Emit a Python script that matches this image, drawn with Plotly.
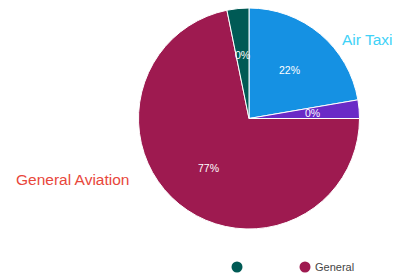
import math
import plotly.graph_objects as go

# ---- data ----
slice_labels = ["Air Taxi", "Other", "General Aviation", "Unknown"]
slice_values = [22.3, 2.7, 71.8, 3.2]
slice_text = ["22%", "0%", "77%", "0%"]
slice_colors = ["#1591E3", "#6A2AC6", "#9E1A50", "#005A55"]

legend_names = ["", "General"]
legend_colors = ["#005A55", "#9E1A50"]

outside_labels = ["Air Taxi", "General Aviation"]
outside_colors = ["#3FD2F7", "#E8473B"]

W, H = 400, 277
OFF = 8  # page body margin offset
cx, cy, R = 249.0 - OFF, 118.5 - OFF, 111.5


def fx(x):
    return x / W


def fy(y):
    return min(1.0, max(0.0, 1 - y / H))


fig = go.Figure()
Rd = min(R, cy)
fig.add_trace(go.Pie(
    labels=slice_labels, values=slice_values,
    marker=dict(colors=slice_colors, line=dict(color="white", width=1)),
    sort=False, direction="clockwise", rotation=0,
    textinfo="none", hoverinfo="skip", showlegend=False,
    domain=dict(x=[fx(cx - Rd), fx(cx + Rd)], y=[fy(cy + Rd), fy(cy - Rd)]),
))

# percentage labels at slice mid-angles
total = sum(slice_values)
cum = 0.0
annotations = []
lab_font = dict(family="Liberation Sans, Arial", size=10.5, color="white")
for v, t in zip(slice_values, slice_text):
    mid = (cum + v / 2) / total * 2 * math.pi
    cum += v
    px = cx + 0.57 * R * math.sin(mid)
    py = cy - 0.57 * R * math.cos(mid)
    annotations.append(dict(x=fx(px), y=fy(py), xref="paper", yref="paper",
                            xanchor="center", yanchor="middle",
                            text=t, showarrow=False, font=lab_font))

annotations.append(dict(x=fx(367.5 - OFF), y=fy(39 - OFF), xref="paper", yref="paper",
                        xanchor="center", yanchor="middle", text=outside_labels[0], showarrow=False,
                        font=dict(family="Liberation Sans, Arial", size=15.5, color=outside_colors[0])))
annotations.append(dict(x=fx(72.5 - OFF), y=fy(179 - OFF), xref="paper", yref="paper",
                        xanchor="center", yanchor="middle", text=outside_labels[1], showarrow=False,
                        font=dict(family="Liberation Sans, Arial", size=15.5, color=outside_colors[1])))

# legend: markers via legend entries, labels placed right next to the markers
legend_x = [fx(217 - OFF), fx(285 - OFF)]
legend_keys = ["legend", "legend2"]
for n, c, lk, lx in zip(legend_names, legend_colors, legend_keys, [237, 305]):
    fig.add_trace(go.Scatter(x=[None], y=[None], mode="markers", name="", legend=lk,
                             marker=dict(color=c, size=11, symbol="circle"), hoverinfo="skip"))
    if n:
        annotations.append(dict(x=fx(lx + 8 - OFF), y=fy(267 - OFF), xref="paper", yref="paper",
                                xanchor="left", yanchor="middle", text=n, showarrow=False,
                                font=dict(family="Liberation Sans, Arial", size=11, color="#444444")))

leg_common = dict(orientation="h", xanchor="left", y=fy(267 - OFF), yanchor="middle",
                  itemclick=False, borderwidth=0,
                  font=dict(family="Liberation Sans, Arial", size=11, color="#444444"),
                  bgcolor="rgba(0,0,0,0)")

fig.update_layout(
    width=W, height=H, margin=dict(l=0, r=0, t=0, b=0),
    paper_bgcolor="white", plot_bgcolor="white",
    xaxis=dict(visible=False), yaxis=dict(visible=False),
    annotations=annotations,
    showlegend=True,
    legend=dict(x=legend_x[0], **leg_common),
    legend2=dict(x=legend_x[1], **leg_common),
)

fig.write_html("out.html")
